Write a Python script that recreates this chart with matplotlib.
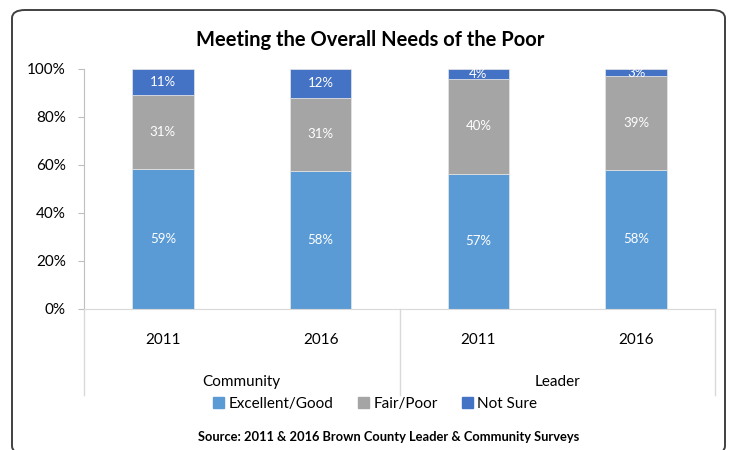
import matplotlib.pyplot as plt
from matplotlib.patches import FancyBboxPatch, Patch
from matplotlib.transforms import blended_transform_factory
import numpy as np

plt.rcParams['font.family'] = ['Lato', 'DejaVu Sans']

years = ['2011', '2016', '2011', '2016']
groups = ['Community', 'Leader']
series = ['Excellent/Good', 'Fair/Poor', 'Not Sure']
colors = ['#5B9BD5', '#A5A5A5', '#4472C4']

excellent = [59, 58, 57, 58]
fair_poor = [31, 31, 40, 39]
not_sure = [11, 12, 4, 3]

vals = np.array([excellent, fair_poor, not_sure], dtype=float)
pct = vals / vals.sum(axis=0) * 100  # 100% stacked

fig = plt.figure(figsize=(7.33, 4.5), dpi=100)

# rounded chart frame
frame = FancyBboxPatch((12/733, -4/450), 713/733, (450-10+4)/450,
                       boxstyle='round,pad=0,rounding_size=0.018',
                       transform=fig.transFigure, facecolor='none',
                       edgecolor='#404040', linewidth=1.4)
fig.patches.append(frame)

ax = fig.add_axes([84/733, 1-309/450, 631/733, 240/450])
x = np.arange(len(years))
bottom = np.zeros(len(years))
for i, name in enumerate(series):
    bars = ax.bar(x, pct[i], 0.39, bottom=bottom, color=colors[i],
                  edgecolor='#E6E6E6', linewidth=0.5, label=name)
    ax.bar_label(bars, labels=['%d%%' % v for v in vals[i]], label_type='center',
                 color='white', fontsize=9.5)
    bottom += pct[i]

ax.set_xlim(-0.5, 3.5)
ax.set_ylim(0, 100)
ax.set_yticks(range(0, 101, 20))
ax.set_yticklabels(['%d%%' % t for t in range(0, 101, 20)], fontsize=11)
ax.tick_params(axis='y', length=4, color='#BFBFBF', pad=9)
ax.set_xticks([])
for s in ['top', 'right']:
    ax.spines[s].set_visible(False)
ax.spines['left'].set_color('#BFBFBF')
ax.spines['bottom'].set_color('#D9D9D9')

# two-level category axis
tr = blended_transform_factory(ax.transData, ax.transAxes)
for xs in [-0.5, 1.5, 3.5]:
    ax.plot([xs, xs], [0, -0.358], transform=tr, color='#D9D9D9',
            linewidth=1, clip_on=False)
for xi, yr in zip(x, years):
    ax.text(xi, -0.13, yr, transform=tr, ha='center', va='center', fontsize=11)
for gi, g in enumerate(groups):
    ax.text(0.5 + 2*gi, -0.305, g, transform=tr, ha='center', va='center', fontsize=11)

fig.text(0.505, 0.911, 'Meeting the Overall Needs of the Poor', ha='center',
         va='center', fontsize=14.5, fontweight='bold')

handles = [Patch(color=c, label=n) for c, n in zip(colors, series)]
fig.legend(handles=handles, loc='center', bbox_to_anchor=(0.512, 0.102), ncol=3,
           frameon=False, fontsize=11, handlelength=0.7, handleheight=0.7,
           handletextpad=0.3, columnspacing=1.6)

fig.text(0.53, 0.029, 'Source: 2011 & 2016 Brown County Leader & Community Surveys',
         ha='center', va='center', fontsize=9.3, fontweight='bold')

fig.savefig('out.png', dpi=100)
